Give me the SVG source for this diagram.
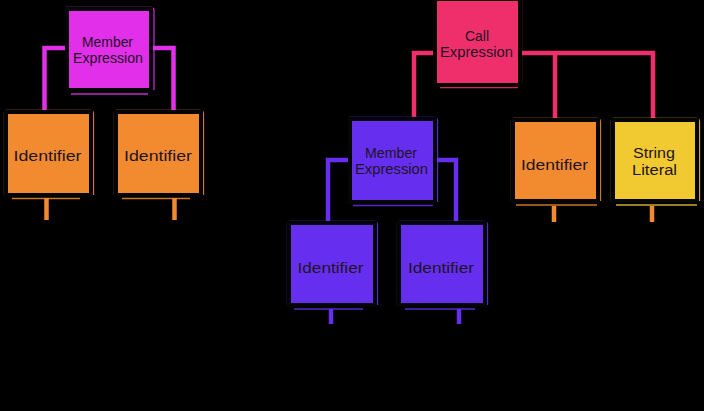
<svg xmlns="http://www.w3.org/2000/svg" width="704" height="411" viewBox="0 0 704 411">
<style>
.bg{fill:#000}
.box{stroke:#050505;stroke-width:4}
.edge{fill:none;stroke-width:1.3;opacity:0.85}
.lbl{font-family:"Liberation Sans",Arial,sans-serif;font-size:15.5px;fill:#1e1424;text-anchor:middle}
.con{fill:none;stroke-width:4.5;stroke-linejoin:miter;stroke-linecap:butt}
.mag{fill:#e22fe9}
.ora{fill:#f28b30}
.pur{fill:#662ff0}
.red{fill:#ef2f6c}
.yel{fill:#f1c930}
</style>
<rect class="bg" x="0" y="0" width="704" height="411"/>
<g id="connectors">
<path class="con" stroke="#e22fe9" d="M44.5 110 V48 H66 M173.5 110 V48 H152"/>
<path class="con" stroke="#f28b30" d="M46.5 198 V220 M174.5 198 V220"/>
<path class="con" stroke="#ef2f6c" d="M414 118 V53 H434 M521 53 H653 V118 M555 53 V118"/>
<path class="con" stroke="#662ff0" d="M328 222 V160 H349 M456 222 V160 H436"/>
<path class="con" stroke="#662ff0" d="M331 309 V324 M459 309 V324"/>
<path class="con" stroke="#f28b30" d="M554 206 V222 M652 206 V222"/>
</g>
<g id="left-member">
<path class="edge" stroke="#e22fe9" d="M66 7.5 H151 Q154 7.5 154 11 V90 M71 94 H148"/>
<rect class="box mag" x="67" y="9" width="84" height="81"/>
<text class="lbl" x="107.5" y="47" textLength="51" lengthAdjust="spacingAndGlyphs">Member</text>
<text class="lbl" x="108" y="63" textLength="70" lengthAdjust="spacingAndGlyphs">Expression</text>
</g>
<g id="left-identifier-1">
<path class="edge" stroke="#f28b30" d="M4.5 112 V195 M6 110.5 H90 Q93.5 110.5 93.5 114 V195 M12 198.5 H80"/>
<rect class="box ora" x="6" y="112" width="85" height="83"/>
<text class="lbl" x="47.5" y="161" textLength="68" lengthAdjust="spacingAndGlyphs">Identifier</text>
</g>
<g id="left-identifier-2">
<path class="edge" stroke="#f28b30" d="M114.5 112 V195 M116 110.5 H200 Q203.5 110.5 203.5 114 V195 M122 198.5 H190"/>
<rect class="box ora" x="116" y="112" width="85" height="83"/>
<text class="lbl" x="158" y="161" textLength="68" lengthAdjust="spacingAndGlyphs">Identifier</text>
</g>
<g id="call-expression">
<path class="edge" stroke="#ef2f6c" d="M521.5 0 V84 M440 87.5 H518"/>
<rect class="box red" x="435" y="-1" width="85" height="86"/>
<text class="lbl" x="477" y="41" textLength="24" lengthAdjust="spacingAndGlyphs">Call</text>
<text class="lbl" x="476.5" y="57" textLength="73" lengthAdjust="spacingAndGlyphs">Expression</text>
</g>
<g id="center-member">
<path class="edge" stroke="#662ff0" d="M349 117.5 H434 Q437.5 117.5 437.5 121 V202 M353 205.5 H433"/>
<rect class="box pur" x="350" y="119" width="85" height="83"/>
<text class="lbl" x="391" y="158" textLength="52" lengthAdjust="spacingAndGlyphs">Member</text>
<text class="lbl" x="391.5" y="174" textLength="73" lengthAdjust="spacingAndGlyphs">Expression</text>
</g>
<g id="center-identifier-1">
<path class="edge" stroke="#662ff0" d="M287.5 223 V305 M289 221.5 H374 Q377.5 221.5 377.5 225 V305 M294 309 H363"/>
<rect class="box pur" x="289" y="223" width="86" height="82"/>
<text class="lbl" x="330.5" y="273" textLength="66" lengthAdjust="spacingAndGlyphs">Identifier</text>
</g>
<g id="center-identifier-2">
<path class="edge" stroke="#662ff0" d="M397.5 223 V305 M399 221.5 H484 Q487.5 221.5 487.5 225 V305 M405 309 H475"/>
<rect class="box pur" x="399" y="223" width="86" height="82"/>
<text class="lbl" x="441" y="273" textLength="66" lengthAdjust="spacingAndGlyphs">Identifier</text>
</g>
<g id="right-identifier">
<path class="edge" stroke="#f28b30" d="M511.5 120 V201 M513 118.5 H597 Q600.5 118.5 600.5 122 V201 M516 205 H597"/>
<rect class="box ora" x="513" y="120" width="85" height="81"/>
<text class="lbl" x="554.5" y="170" textLength="67" lengthAdjust="spacingAndGlyphs">Identifier</text>
</g>
<g id="string-literal">
<path class="edge" stroke="#f1c930" d="M611.5 120 V201 M613 118.5 H696 Q699.5 118.5 699.5 122 V201 M616 205 H697"/>
<rect class="box yel" x="613" y="120" width="84" height="81"/>
<text class="lbl" x="654" y="158" textLength="42" lengthAdjust="spacingAndGlyphs">String</text>
<text class="lbl" x="654.5" y="175" textLength="45" lengthAdjust="spacingAndGlyphs">Literal</text>
</g>
</svg>
